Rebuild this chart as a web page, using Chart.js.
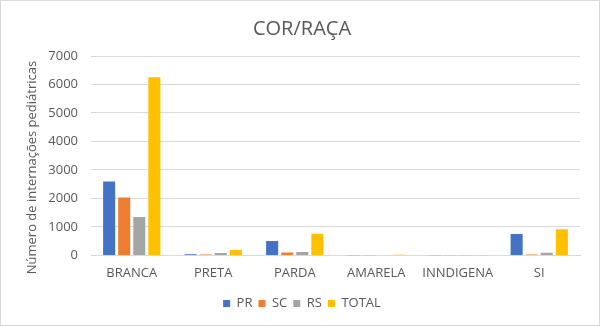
<!DOCTYPE html>
<html>
<head>
<meta charset="utf-8">
<script src="https://cdn.jsdelivr.net/npm/chart.js@4"></script>
<style>
  html, body { margin: 0; padding: 0; background: #fff; }
  #wrap { position: relative; width: 598px; height: 324px; border: 1px solid #d9d9d9; }
</style>
</head>
<body>
<div id="wrap"><canvas id="chart"></canvas></div>
<script>
var categories = ["BRANCA", "PRETA", "PARDA", "AMARELA", "INNDIGENA", "SI"];
var prValues = [2590, 40, 505, 5, 2, 750];
var scValues = [2030, 30, 100, 5, 1, 30];
var rsValues = [1350, 85, 120, 10, 5, 95];
var totalValues = [6250, 190, 760, 25, 8, 915];
var yTicks = [0, 1000, 2000, 3000, 4000, 5000, 6000, 7000];

var ink = "#595959";
var ds = function (label, values, color) {
    return {
        label: label,
        data: values,
        backgroundColor: color,
        borderWidth: 0,
        categoryPercentage: 0.74,
        barPercentage: 0.8
    };
};

new Chart(document.getElementById("chart"), {
    type: "bar",
    data: {
        labels: categories,
        datasets: [
            ds("PR", prValues, "#4472C4"),
            ds("SC", scValues, "#ED7D31"),
            ds("RS", rsValues, "#A5A5A5"),
            ds("TOTAL", totalValues, "#FFC000")
        ]
    },
    options: {
        responsive: true,
        maintainAspectRatio: false,
        animation: false,
        layout: { padding: { left: 23, right: 19, top: 0, bottom: 5 } },
        plugins: {
            title: {
                display: true,
                text: "COR/RAÇA",
                color: ink,
                font: { family: "Open Sans", size: 20, weight: "normal" },
                padding: { top: 16, bottom: 15 }
            },
            legend: {
                position: "bottom",
                labels: {
                    color: ink,
                    font: { family: "Open Sans", size: 13 },
                    boxWidth: 7,
                    boxHeight: 7,
                    padding: 6
                }
            },
            tooltip: { enabled: false }
        },
        scales: {
            x: {
                grid: { display: false, drawTicks: false },
                border: { color: "#d9d9d9" },
                ticks: {
                    color: ink,
                    font: { family: "Open Sans", size: 13 },
                    padding: 10
                }
            },
            y: {
                min: 0,
                max: 7000,
                afterBuildTicks: function (axis) {
                    axis.ticks = yTicks.map(function (v) { return { value: v }; });
                },
                afterFit: function (axis) { axis.width = 67; },
                grid: { color: "#d9d9d9", drawTicks: false },
                border: { display: false },
                ticks: {
                    color: ink,
                    font: { family: "Open Sans", size: 13 },
                    padding: 13,
                    callback: function (v) { return String(v); }
                },
                title: {
                    display: true,
                    text: "Número de internações pediátricas       ",
                    color: ink,
                    font: { family: "Open Sans", size: 13 },
                    padding: { top: 0, bottom: 2 }
                }
            }
        }
    }
});
</script>
</body>
</html>
